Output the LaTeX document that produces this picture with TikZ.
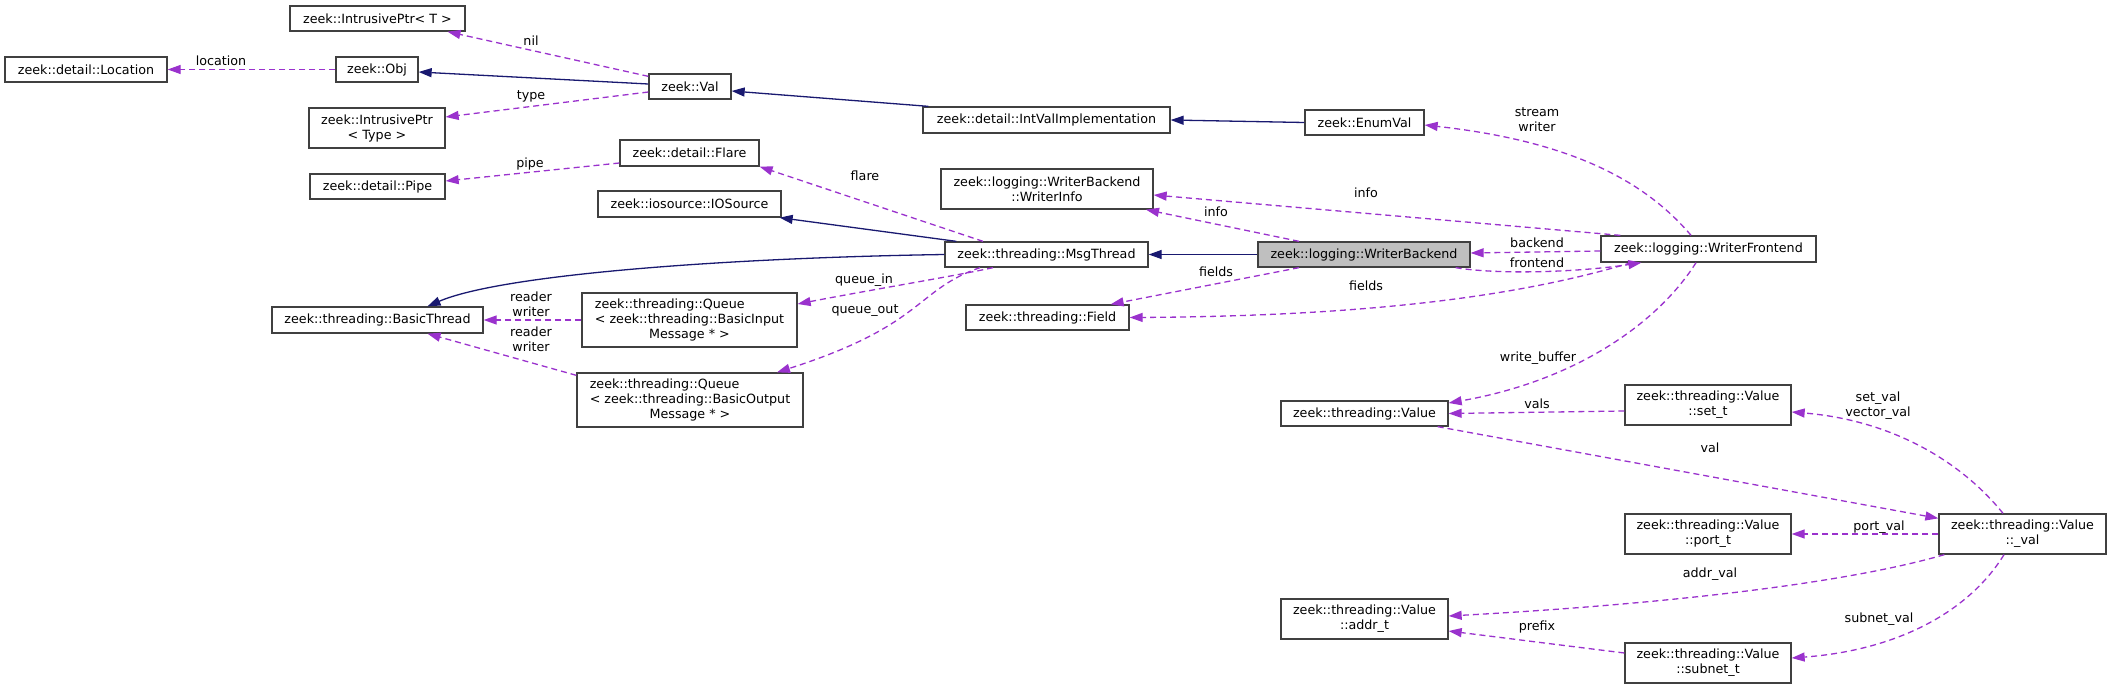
\documentclass[tikz,border=0pt]{standalone}
\usepackage{fontspec}
\setmainfont{DejaVu Sans}
\usetikzlibrary{arrows.meta,calc}
\definecolor{navyc}{HTML}{191970}
\definecolor{purp}{HTML}{9A32CD}
\definecolor{bord}{HTML}{404040}
\definecolor{hl}{HTML}{BFBFBF}
\renewcommand{\arraystretch}{1}
\begin{document}
\begin{tikzpicture}[x=1pt,y=-1pt,
 cls/.style={draw=bord, line width=1.3pt, fill=white, inner sep=0pt, align=center, font=\fontsize{12.7}{15}\selectfont},
 lbl/.style={inner sep=0pt, align=center, font=\fontsize{12.7}{15}\selectfont},
 inh/.style={draw=navyc, line width=1.3pt, -{Triangle[length=13pt,width=9pt]}},
 use/.style={draw=purp, line width=1.3pt, dash pattern=on 6pt off 4pt, -{Triangle[length=13pt,width=9pt]}},
]
\useasboundingbox (0,0) rectangle (2112,690);
% classes
\node[cls, minimum width=175pt, minimum height=25pt] (IPT) at (377.5,18.5) {zeek::IntrusivePtr< T >};
\node[cls, minimum width=162pt, minimum height=25pt] (Loc) at (86,69.5) {zeek::detail::Location};
\node[cls, minimum width=82pt, minimum height=25pt] (Obj) at (377,69.5) {zeek::Obj};
\node[cls, minimum width=136pt, minimum height=40pt] (IPType) at (377,128) {zeek::IntrusivePtr\\< Type >};
\node[cls, minimum width=135pt, minimum height=25pt] (Pipe) at (377.5,186.5) {zeek::detail::Pipe};
\node[cls, minimum width=82pt, minimum height=25pt] (Val) at (690,86.5) {zeek::Val};
\node[cls, minimum width=247pt, minimum height=26pt] (IVI) at (1046.5,120) {zeek::detail::IntValImplementation};
\node[cls, minimum width=119pt, minimum height=25pt] (Enum) at (1364.5,122.5) {zeek::EnumVal};
\node[cls, minimum width=139pt, minimum height=26pt] (Flare) at (689.5,153) {zeek::detail::Flare};
\node[cls, minimum width=183pt, minimum height=26pt] (IOS) at (689.5,204) {zeek::iosource::IOSource};
\node[cls, minimum width=212pt, minimum height=40pt] (WI) at (1047,189) {zeek::logging::WriterBackend\\::WriterInfo};
\node[cls, minimum width=203pt, minimum height=25pt] (MT) at (1046.5,254.5) {zeek::threading::MsgThread};
\node[cls, minimum width=163pt, minimum height=25pt] (Field) at (1047.5,317.5) {zeek::threading::Field};
\node[cls, fill=hl, minimum width=212pt, minimum height=25pt] (WB) at (1364,254.5) {zeek::logging::WriterBackend};
\node[cls, minimum width=215pt, minimum height=26pt] (WF) at (1708.5,249) {zeek::logging::WriterFrontend};
\node[cls, minimum width=211pt, minimum height=26pt] (BT) at (377.5,320) {zeek::threading::BasicThread};
\node[cls, minimum width=215pt, minimum height=54pt] (QI) at (689.5,320) {\begin{tabular}{@{}l@{}}zeek::threading::Queue\\< zeek::threading::BasicInput\\\multicolumn{1}{@{}c@{}}{Message * >}\end{tabular}};
\node[cls, minimum width=226pt, minimum height=54pt] (QO) at (690,400) {\begin{tabular}{@{}l@{}}zeek::threading::Queue\\< zeek::threading::BasicOutput\\\multicolumn{1}{@{}c@{}}{Message * >}\end{tabular}};
\node[cls, minimum width=167pt, minimum height=25pt] (Value) at (1364.5,413.5) {zeek::threading::Value};
\node[cls, minimum width=166pt, minimum height=40pt] (SetT) at (1708,405) {zeek::threading::Value\\::set\_t};
\node[cls, minimum width=166pt, minimum height=40pt] (PortT) at (1708,534) {zeek::threading::Value\\::port\_t};
\node[cls, minimum width=167pt, minimum height=40pt] (ValU) at (2022.5,534) {zeek::threading::Value\\::\_val};
\node[cls, minimum width=167pt, minimum height=40pt] (AddrT) at (1364.5,619) {zeek::threading::Value\\::addr\_t};
\node[cls, minimum width=166pt, minimum height=40pt] (SubnetT) at (1708,663) {zeek::threading::Value\\::subnet\_t};
% inheritance
\draw[inh] ($(Val.west)+(0,-2.5)$) -- ($(Obj.east)+(0,2.5)$);
\draw[inh] ($(IVI.north west)+(6,0)$) -- ($(Val.east)+(0,4.5)$);
\draw[inh] (Enum.west) -- (IVI.east);
\draw[inh] ($(MT.north west)+(12,0)$) -- ($(IOS.south east)+(-2,0)$);
\draw[inh] (MT.west) .. controls (720,258) and (500,275) .. ($(BT.north)+(50,0)$);
\draw[inh] (WB.west) -- (MT.east);
% usage
\draw[use] (Obj.west) -- (Loc.east);
\draw[use] ($(Val.north west)+(0,3)$) -- ($(IPT.south)+(70,0)$);
\draw[use] ($(Val.west)+(0,5.5)$) -- ($(IPType.east)+(0,-11)$);
\draw[use] ($(Flare.west)+(0,10)$) -- ($(Pipe.east)+(0,-5.5)$);
\draw[use] ($(MT.north)+(-63.5,0)$) -- (Flare.south east);
\draw[use] ($(MT.south)+(-53.5,0)$) .. controls (960,275) and (870,290) .. ($(QI.east)+(0,-16)$);
\draw[use] ($(MT.south)+(-66.5,0)$) .. controls (915,290) and (925,325) .. ($(QO.north)+(87,0)$);
\draw[use] (QI.west) -- (BT.east);
\draw[use] ($(QO.north west)+(0,3)$) -- ($(BT.south)+(50,0)$);
\draw[use] ($(WB.north)+(-65,0)$) -- ($(WI.south)+(99,0)$);
\draw[use] ($(WB.south)+(-65,0)$) -- ($(Field.north east)+(-19,0)$);
\draw[use] ($(WF.north west)+(20,0)$) -- ($(WI.east)+(0,6)$);
\draw[use] ($(WF.west)+(0,2)$) -- ($(WB.east)+(0,-1.5)$);
\draw[use] ($(WB.south east)+(-15,0)$) .. controls (1500,275) and (1580,272) .. ($(WF.south west)+(41,0)$);
\draw[use] ($(WF.south west)+(31,0)$) .. controls (1540,290) and (1400,316) .. (Field.east);
\draw[use] ($(WF.north)+(-17.5,0)$) .. controls (1640,175) and (1560,140) .. ($(Enum.east)+(0,2.5)$);
\draw[use] ($(WF.south)+(-12.5,0)$) .. controls (1660,320) and (1580,380) .. ($(Value.east)+(0,-10.5)$);
\draw[use] ($(SetT.west)+(0,6)$) -- (Value.east);
\draw[use] ($(ValU.north)+(-19.5,0)$) .. controls (1960,460) and (1890,420) .. ($(SetT.east)+(0,7)$);
\draw[use] ($(Value.south east)+(-11,0)$) -- ($(ValU.north west)+(0,5)$);
\draw[use] (ValU.west) -- (PortT.east);
\draw[use] ($(ValU.south west)+(6,0)$) .. controls (1840,585) and (1650,605) .. ($(AddrT.east)+(0,-3)$);
\draw[use] ($(ValU.south)+(-18.5,0)$) .. controls (1970,610) and (1900,650) .. ($(SubnetT.east)+(0,-5)$);
\draw[use] ($(SubnetT.west)+(0,-10)$) -- ($(AddrT.east)+(0,12)$);
% labels
\node[lbl] (l1) at (221,61) {location};
\node[lbl] (l2) at (531,41) {nil};
\node[lbl] (l3) at (531,96) {type};
\node[lbl] (l4) at (530,164) {pipe};
\node[lbl] (l5) at (865,176) {flare};
\node[lbl] (l6) at (864,280) {queue\_in};
\node[lbl] (l7) at (865,311) {queue\_out};
\node[lbl] (l8) at (531,304.5) {reader\\writer};
\node[lbl] (l9) at (531,339.5) {reader\\writer};
\node[lbl] (l10) at (1366,193) {info};
\node[lbl] (l11) at (1216,212) {info};
\node[lbl] (l12) at (1537,243) {backend};
\node[lbl] (l13) at (1537,263) {frontend};
\node[lbl] (l14) at (1216,272) {fields};
\node[lbl] (l15) at (1366,286) {fields};
\node[lbl] (l16) at (1537,119.5) {stream\\writer};
\node[lbl] (l17) at (1538,358) {write\_buffer};
\node[lbl] (l18) at (1537,404) {vals};
\node[lbl] (l19) at (1878,405.5) {set\_val\\vector\_val};
\node[lbl] (l20) at (1710,448) {val};
\node[lbl] (l21) at (1879,527) {port\_val};
\node[lbl] (l22) at (1710,574) {addr\_val};
\node[lbl] (l23) at (1537,627) {prefix};
\node[lbl] (l24) at (1879,619) {subnet\_val};
\end{tikzpicture}
\end{document}
